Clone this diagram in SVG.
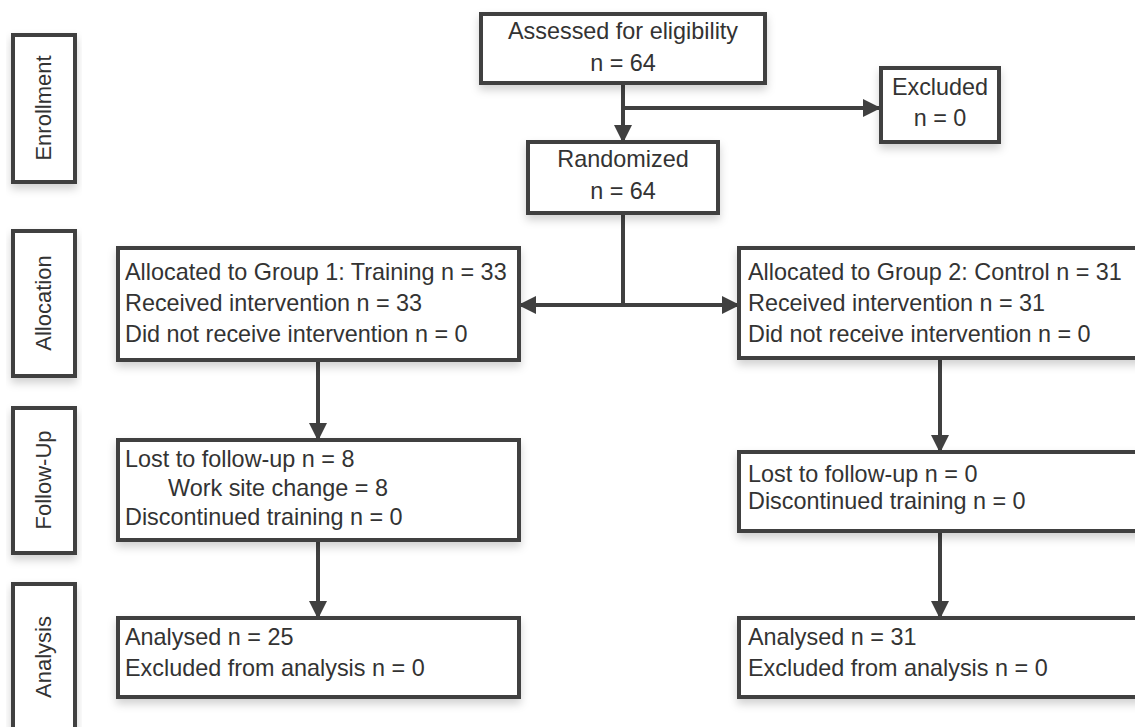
<svg xmlns="http://www.w3.org/2000/svg" width="1135" height="727" viewBox="0 0 1135 727">
<defs>
<filter id="sh" x="-10%" y="-10%" width="120%" height="140%">
<feDropShadow dx="0" dy="5" stdDeviation="4" flood-color="#000" flood-opacity="0.18"/>
</filter>
<marker id="ah" markerUnits="userSpaceOnUse" markerWidth="18" markerHeight="18" refX="17" refY="9" orient="auto">
<path d="M0,0 L18,9 L0,18 Z" fill="#404040"/>
</marker>
</defs>
<style>
.box{fill:#fff;stroke:#404040;stroke-width:4;filter:url(#sh)}
.t{font-family:"Liberation Sans",Arial,sans-serif;font-size:23.4px;fill:#333}
.s{font-family:"Liberation Sans",Arial,sans-serif;font-size:22px;fill:#333;text-anchor:middle}
.c{text-anchor:middle}
.ln{fill:none;stroke:#404040;stroke-width:4}
.ar{marker-end:url(#ah)}
</style>
<rect width="1135" height="727" fill="#fff"/>

<g id="label-enrollment">
<rect class="box" x="13" y="35" width="62" height="147"/>
<text class="s" transform="translate(51,108) rotate(-90)">Enrollment</text>
</g>
<g id="label-allocation">
<rect class="box" x="13" y="231" width="62" height="145"/>
<text class="s" transform="translate(51,303) rotate(-90)">Allocation</text>
</g>
<g id="label-followup">
<rect class="box" x="13" y="408" width="62" height="145"/>
<text class="s" transform="translate(51,480) rotate(-90)">Follow-Up</text>
</g>
<g id="label-analysis">
<rect class="box" x="13" y="584" width="62" height="160"/>
<text class="s" transform="translate(51,657) rotate(-90)">Analysis</text>
</g>

<g id="connectors">
<line class="ln ar" x1="623" y1="83" x2="623" y2="142"/>
<line class="ln ar" x1="623" y1="108" x2="880" y2="108"/>
<polyline class="ln" points="623,213 623,305"/>
<line class="ln ar" x1="625" y1="305" x2="519" y2="305"/>
<line class="ln ar" x1="621" y1="305" x2="739" y2="305"/>
<line class="ln ar" x1="318" y1="360" x2="318" y2="440"/>
<line class="ln ar" x1="318" y1="540" x2="318" y2="618"/>
<line class="ln ar" x1="940" y1="358" x2="940" y2="452"/>
<line class="ln ar" x1="940" y1="531" x2="940" y2="618"/>
</g>

<g id="assessed">
<rect class="box" x="481" y="14" width="284" height="69"/>
<text class="t c" x="623" y="39">Assessed for eligibility</text>
<text class="t c" x="623" y="71">n = 64</text>
</g>
<g id="excluded">
<rect class="box" x="881" y="68" width="118" height="74"/>
<text class="t c" x="940" y="95">Excluded</text>
<text class="t c" x="940" y="126">n = 0</text>
</g>
<g id="randomized">
<rect class="box" x="528" y="142" width="190" height="71"/>
<text class="t c" x="623" y="167">Randomized</text>
<text class="t c" x="623" y="199">n = 64</text>
</g>
<g id="alloc-group1">
<rect class="box" x="118" y="248" width="401" height="112"/>
<text class="t" x="125" y="280">Allocated to Group 1: Training n = 33</text>
<text class="t" x="125" y="311">Received intervention n = 33</text>
<text class="t" x="125" y="342">Did not receive intervention n = 0</text>
</g>
<g id="alloc-group2">
<rect class="box" x="739" y="248" width="410" height="110"/>
<text class="t" x="748" y="280">Allocated to Group 2: Control n = 31</text>
<text class="t" x="748" y="311">Received intervention n = 31</text>
<text class="t" x="748" y="342">Did not receive intervention n =  0</text>
</g>
<g id="followup-group1">
<rect class="box" x="118" y="440" width="401" height="100"/>
<text class="t" x="125" y="467">Lost to follow-up n = 8</text>
<text class="t" x="168" y="496">Work site change = 8</text>
<text class="t" x="125" y="525">Discontinued training n = 0</text>
</g>
<g id="followup-group2">
<rect class="box" x="739" y="452" width="410" height="79"/>
<text class="t" x="748" y="482">Lost to follow-up n = 0</text>
<text class="t" x="748" y="509">Discontinued training n = 0</text>
</g>
<g id="analysis-group1">
<rect class="box" x="118" y="618" width="401" height="79"/>
<text class="t" x="125" y="645">Analysed n = 25</text>
<text class="t" x="125" y="676">Excluded from analysis n = 0</text>
</g>
<g id="analysis-group2">
<rect class="box" x="739" y="618" width="410" height="79"/>
<text class="t" x="748" y="645">Analysed n = 31</text>
<text class="t" x="748" y="676">Excluded from analysis n = 0</text>
</g>
</svg>
